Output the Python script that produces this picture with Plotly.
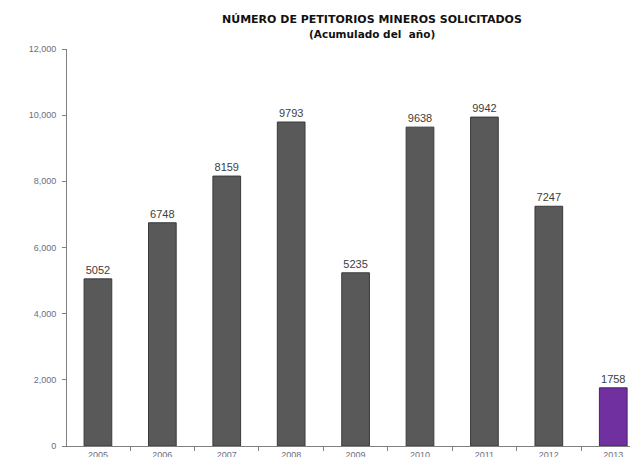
import plotly.graph_objects as go

years = ["2005", "2006", "2007", "2008", "2009", "2010", "2011", "2012", "2013"]
values = [5052, 6748, 8159, 9793, 5235, 9638, 9942, 7247, 1758]
bar_colors = ["#595959"] * 8 + ["#7030A0"]
line_colors = ["#3a3a3a"] * 8 + ["#4b1f70"]
title_line1 = "NÚMERO DE PETITORIOS MINEROS SOLICITADOS"
title_line2 = "(Acumulado del  año)"

fig = go.Figure(go.Bar(
    x=years, y=values,
    marker=dict(color=bar_colors, line=dict(color=line_colors, width=1)),
    width=0.43,
    text=[str(v) for v in values],
    textposition="outside",
    textfont=dict(family="Liberation Sans", size=11, color="#404040"),
    cliponaxis=False,
))

tick_font = dict(family="Liberation Sans", size=9, color="#6e6e80")

fig.add_annotation(
    text="<b>" + title_line1 + "</b>", xref="paper", yref="paper",
    x=0.541, y=1.0743, xanchor="center", yanchor="middle", showarrow=False,
    font=dict(family="DejaVu Sans", size=11, color="#111111"),
)
fig.add_annotation(
    text="<b>" + title_line2 + "</b>", xref="paper", yref="paper",
    x=0.541, y=1.039, xanchor="center", yanchor="middle", showarrow=False,
    font=dict(family="DejaVu Sans", size=10.5, color="#111111"),
)

fig.update_layout(
    width=630, height=457,
    margin=dict(l=67, r=0, t=49, b=11),
    paper_bgcolor="white", plot_bgcolor="white",
    showlegend=False,
    xaxis=dict(
        type="category", range=[-0.48, 8.26],
        showline=True, linecolor="#808080", linewidth=1,
        ticks="outside", ticklen=4, tickcolor="#808080", tickson="boundaries",
        tickfont=tick_font,
        showgrid=False, automargin=False,
    ),
    yaxis=dict(
        range=[0, 12000], dtick=2000, tickformat=",",
        showline=True, linecolor="#808080", linewidth=1,
        ticks="outside", ticklen=4, tickcolor="#808080",
        ticklabelstandoff=4,
        tickfont=tick_font,
        showgrid=False, zeroline=False, automargin=False,
    ),
)

fig.write_html(
    "out.html",
    config={"displayModeBar": False},
    post_script="document.body.style.margin='0';document.body.style.overflow='hidden';",
)
